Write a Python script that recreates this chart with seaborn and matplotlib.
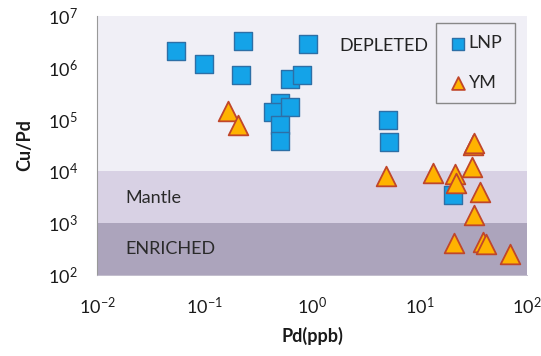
import numpy as np
import pandas as pd
import matplotlib
matplotlib.use("Agg")
import matplotlib.pyplot as plt
import seaborn as sns
from matplotlib.ticker import LogLocator, LogFormatterSciNotation, NullLocator

# data (Pd in ppb, Cu/Pd ratio)
LNP_PD = [0.054, 0.098, 0.23, 0.22, 0.92, 0.62, 0.80, 0.50, 0.43, 0.62, 0.50, 0.50, 5.06, 5.2, 20.7]
LNP_CUPD = [2.1e6, 1.18e6, 3.3e6, 7.2e5, 2.9e6, 6.0e5, 7.2e5, 2.07e5, 1.42e5, 1.73e5, 7.9e4, 3.9e4, 1.0e5, 3.7e4, 3.5e3]

YM_PD = [0.164, 0.204, 4.87, 13.3, 21.4, 22.0, 31.2, 32.3, 30.6, 36.5, 32.1, 20.9, 38.7, 41.6, 69.5]
YM_CUPD = [1.49e5, 7.9e4, 8.1e3, 9.4e3, 8.9e3, 5.9e3, 3.3e4, 3.6e4, 1.23e4, 4.06e3, 1.44e3, 4.2e2, 4.4e2, 4.0e2, 2.6e2]

# band limits on the Cu/Pd axis
BAND_EDGES = [1e2, 1e3, 1e4, 1e7]
BAND_COLORS = ["#aca4bc", "#d8d1e4", "#f0eff6"]

sns.set_theme(style="white")
plt.rcParams['font.family'] = ['Lato', 'DejaVu Sans']
plt.rcParams['mathtext.fontset'] = 'custom'
plt.rcParams['mathtext.rm'] = 'Lato'
plt.rcParams['mathtext.it'] = 'Lato:italic'
plt.rcParams['mathtext.bf'] = 'Lato:bold'
plt.rcParams['axes.unicode_minus'] = False

fig = plt.figure(figsize=(5.41, 3.56), dpi=100)
ax = fig.add_axes([0.1793, 0.2275, 0.7947, 0.7275])

# background bands
for lo, hi, c in zip(BAND_EDGES[:-1], BAND_EDGES[1:], BAND_COLORS):
    ax.axhspan(lo, hi, color=c, zorder=0, lw=0)

lnp = pd.DataFrame({'Pd': LNP_PD, 'CuPd': LNP_CUPD})
ym = pd.DataFrame({'Pd': YM_PD, 'CuPd': YM_CUPD})

sns.scatterplot(data=lnp, x='Pd', y='CuPd', marker='s', s=150, color='#14a3e8',
                edgecolor='#2d6fa6', linewidth=1.0, label='LNP', ax=ax, zorder=3)
sns.scatterplot(data=ym, x='Pd', y='CuPd', marker='^', s=200, color='#ffb300',
                edgecolor='#c0462a', linewidth=1.3, label='YM', ax=ax, zorder=4)

ax.set_xscale('log')
ax.set_yscale('log')
ax.set_xlim(1e-2, 1e2)
ax.set_ylim(1e2, 1e7)

ax.xaxis.set_major_locator(LogLocator(base=10, numticks=10))
ax.xaxis.set_major_formatter(LogFormatterSciNotation())
ax.xaxis.set_minor_locator(NullLocator())
ax.yaxis.set_major_locator(LogLocator(base=10, numticks=10))
ax.yaxis.set_major_formatter(LogFormatterSciNotation())
ax.yaxis.set_minor_locator(LogLocator(base=10, subs=np.arange(2, 10), numticks=20))

ax.tick_params(axis='both', which='major', direction='in', length=4, width=0.8,
               color='#999999', labelsize=13, labelcolor='#1a1a1a')
ax.tick_params(axis='y', which='minor', direction='in', length=3, width=0.6, color='#aaaaaa')
ax.tick_params(axis='x', which='major', pad=15)
ax.tick_params(axis='y', which='major', pad=14)

for side in ['top', 'right']:
    ax.spines[side].set_visible(False)
ax.spines['left'].set_color('#999999')
ax.spines['left'].set_linewidth(0.8)
ax.spines['bottom'].set_color('#b8b2c4')
ax.spines['bottom'].set_linewidth(0.6)

ax.set_xlabel('Pd(ppb)', fontsize=13, fontweight='bold', labelpad=7, color='#1a1a1a')
ax.set_ylabel('Cu/Pd', fontsize=13, fontweight='bold', labelpad=10, color='#1a1a1a')

# region labels
ax.text(1.8, 2.6e6, 'DEPLETED', fontsize=13, color='#222222', va='center', ha='left')
ax.text(0.0185, 3.0e3, 'Mantle', fontsize=13, color='#2a2a2a', va='center', ha='left')
ax.text(0.0185, 3.2e2, 'ENRICHED', fontsize=13, color='#2a2a2a', va='center', ha='left')

leg = ax.legend(loc='upper right', bbox_to_anchor=(0.985, 0.995), frameon=True, fancybox=False,
                fontsize=13, markerscale=0.65, handletextpad=0.1, handlelength=1.0,
                labelspacing=1.3, borderpad=0.7, borderaxespad=0.3)
leg.get_frame().set_edgecolor('#888888')
leg.get_frame().set_linewidth(1.0)
leg.get_frame().set_facecolor('#f0eff6')
leg.get_frame().set_alpha(1)

fig.savefig('out.png', dpi=100)
